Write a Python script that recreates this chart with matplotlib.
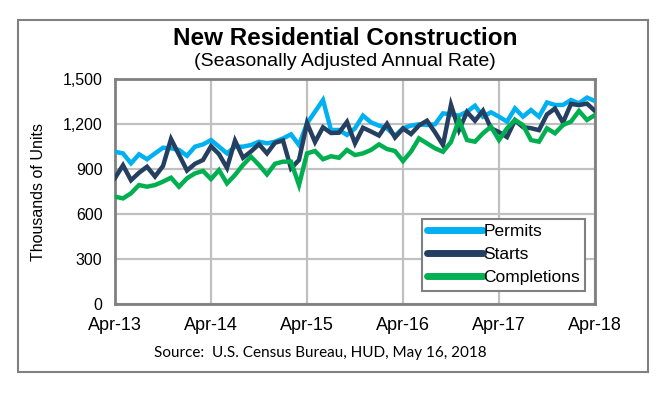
"""
New Residential Construction chart (permits, starts, completions), SAAR.
Writes out.png.
"""

import matplotlib
matplotlib.use("Agg")
import matplotlib.pyplot as plt
from matplotlib.patches import Rectangle
from matplotlib.ticker import FuncFormatter

plt.rcParams["font.family"] = ["Liberation Sans", "DejaVu Sans"]

# ── Data (thousands of units, monthly Apr-13 .. Apr-18) ──
permits = [
    1015, 1004, 938, 998, 965, 1004, 1042, 1038, 1027, 988, 1049, 1064,
    1093, 1049, 1004, 1049, 1049, 1060, 1082, 1071, 1082, 1104, 1131, 1060,
    1204, 1282, 1360, 1160, 1160, 1127, 1171, 1256, 1211, 1189, 1171, 1122,
    1171, 1189, 1198, 1193, 1198, 1271, 1264, 1256, 1282, 1322, 1249, 1278,
    1249, 1216, 1304, 1249, 1293, 1249, 1344, 1327, 1327, 1360, 1338, 1376,
    1353,
]
starts = [
    840, 925, 825, 875, 915, 850, 920, 1100, 995, 890, 935, 960,
    1052, 999, 907, 1089, 975, 1017, 1065, 1004, 1075, 1090, 904, 960,
    1206, 1080, 1178, 1140, 1142, 1214, 1071, 1175, 1150, 1123, 1201, 1110,
    1170, 1133, 1190, 1222, 1145, 1060, 1328, 1160, 1280, 1222, 1289, 1172,
    1146, 1113, 1225, 1179, 1172, 1159, 1264, 1303, 1210, 1334, 1326, 1336,
    1287,
]
completions = [
    716, 704, 738, 793, 782, 793, 816, 842, 782, 838, 871, 887,
    833, 893, 804, 860, 927, 982, 927, 864, 935, 949, 949, 793,
    1004, 1020, 965, 985, 975, 1027, 993, 1004, 1027, 1064, 1033, 1020,
    953, 1016, 1104, 1071, 1038, 1015, 1080, 1227, 1093, 1082, 1138, 1182,
    1093, 1171, 1227, 1193, 1093, 1082, 1171, 1138, 1193, 1216, 1287, 1227,
    1260,
]
tick_months = [0, 12, 24, 36, 48, 60]
tick_labels = ["Apr-13", "Apr-14", "Apr-15", "Apr-16", "Apr-17", "Apr-18"]
y_ticks = [0, 300, 600, 900, 1200, 1500]

COLORS = {"Permits": "#00B0F0", "Starts": "#243F60", "Completions": "#00B050"}
GRID = "#C0C0C0"
FRAME = "#808080"


def main() -> int:
    fig = plt.figure(figsize=(6.71, 3.96), dpi=100)
    ax = fig.add_axes([0.1714, 0.2323, 0.7153, 0.5682])

    months = list(range(len(permits)))
    for name, vals in (("Permits", permits), ("Starts", starts),
                       ("Completions", completions)):
        ax.plot(months, vals, color=COLORS[name], lw=3.2,
                solid_joinstyle="miter", label=name, zorder=3)

    ax.set_xlim(0, 60)
    ax.set_ylim(0, 1500)
    ax.set_xticks(tick_months)
    ax.set_xticklabels(tick_labels)
    ax.set_yticks(y_ticks)
    ax.yaxis.set_major_formatter(FuncFormatter(lambda v, _: f"{int(v):,}"))
    ax.tick_params(axis="both", length=0)
    ax.tick_params(axis="x", pad=9, labelsize=13)
    ax.tick_params(axis="y", pad=9, labelsize=11.5)
    ax.grid(True, color=GRID, lw=1.6, zorder=0)
    ax.set_axisbelow(True)
    for s in ax.spines.values():
        s.set_color(FRAME)
        s.set_linewidth(2.0)

    ax.set_ylabel("Thousands of Units", fontsize=11.5, labelpad=12)

    leg = ax.legend(loc="lower right", bbox_to_anchor=(0.98, 0.06),
                    borderaxespad=0, fontsize=12.5, handlelength=3.2,
                    handletextpad=0.05, labelspacing=0.45, borderpad=0.3,
                    fancybox=False, framealpha=1)
    leg.get_frame().set_edgecolor(FRAME)
    leg.get_frame().set_linewidth(1.5)
    for line in leg.get_lines():
        line.set_linewidth(5)
        line.set_solid_capstyle("round")

    fig.text(0.514, 0.903, "New Residential Construction", ha="center",
             va="center", fontsize=17.5, fontweight="bold")
    fig.text(0.514, 0.845, "(Seasonally Adjusted Annual Rate)", ha="center",
             va="center", fontsize=14)
    fig.text(0.477, 0.108, "Source:  U.S. Census Bureau, HUD, May 16, 2018",
             ha="center", va="center", fontsize=11,
             family=["Lato", "DejaVu Sans"])

    fig.patches.append(Rectangle((18 / 671, 1 - 372 / 396), 630 / 671,
                                 352 / 396, transform=fig.transFigure,
                                 fill=False, edgecolor=FRAME, lw=1.5))

    fig.savefig("out.png", dpi=100)
    plt.close(fig)
    return 0


if __name__ == "__main__":
    raise SystemExit(main())
